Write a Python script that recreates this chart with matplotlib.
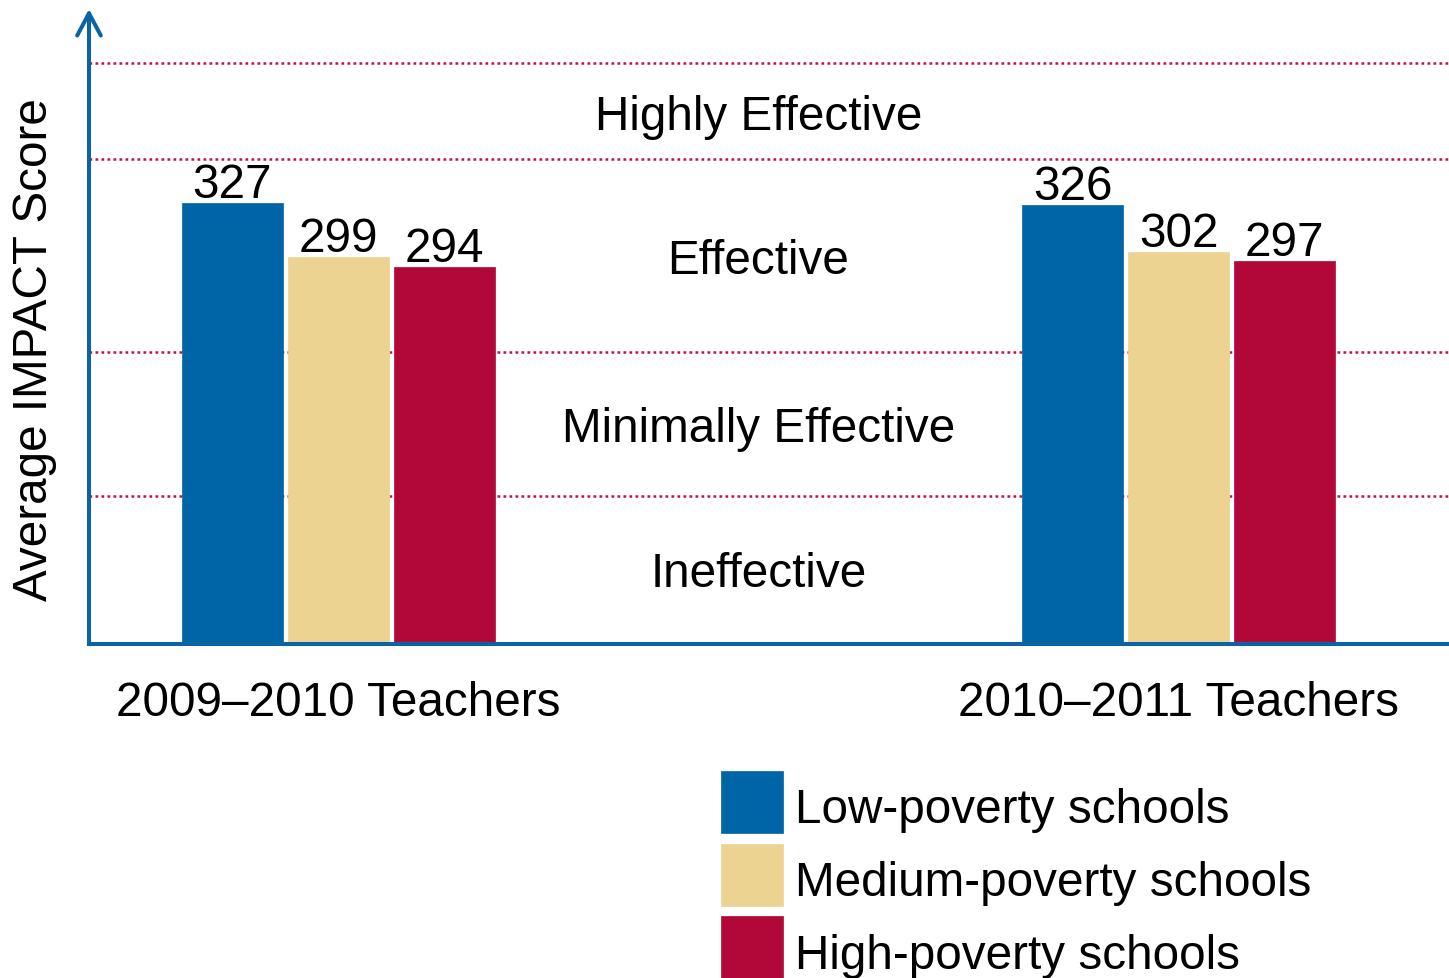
import matplotlib
matplotlib.use("Agg")
import matplotlib.pyplot as plt
from matplotlib.patches import Rectangle
from matplotlib.legend_handler import HandlerPatch
from matplotlib.container import BarContainer
import numpy as np

plt.rcParams['font.family'] = ['Liberation Sans', 'DejaVu Sans']

# ---- data ----
groups = ["2009\u20132010 Teachers", "2010\u20132011 Teachers"]
series = ["Low-poverty schools", "Medium-poverty schools", "High-poverty schools"]
low_poverty = [327, 326]
medium_poverty = [299, 302]
high_poverty = [294, 297]
band_edges = [175, 250, 350, 400]
band_labels = ["Ineffective", "Minimally Effective", "Effective", "Highly Effective"]
band_mids = [137.5, 212.5, 300, 375]

colors = ["#0065A6", "#ECD392", "#B20838"]
line_color = "#C4143E"
axis_blue = "#0A64A4"

W, H = 1449, 979
fig = plt.figure(figsize=(W / 100, H / 100), dpi=100)
ax = fig.add_axes([89 / W, (H - 645) / H, 1 - 89 / W, (645 - 10) / H])

ax.set_ylim(98.2, 428.0)
ax.set_xlim(-0.297, 1.322)

x = np.arange(len(groups))
bw = 0.1202
step = 0.1262
values = [low_poverty, medium_poverty, high_poverty]
containers = []
for i, (vals, c, lab) in enumerate(zip(values, colors, series)):
    bc = ax.bar(x + (i - 1) * step, vals, width=bw, color=c, label=lab, zorder=3,
                edgecolor=c, linewidth=0.5)
    containers.append(bc)
    for xi, v in zip(x + (i - 1) * step, vals):
        ax.annotate(str(v), (xi, v), xytext=(0, 4.3), textcoords='offset points',
                    ha='center', va='baseline', fontsize=34.3, color='black', zorder=5)

for e in band_edges:
    ax.axhline(e, color=line_color, lw=1.8, linestyle=(0, (1.1, 1.3)), zorder=1)

for lab, m in zip(band_labels, band_mids):
    ax.text(0.5, m, lab, ha='center', va='center_baseline', fontsize=34.3, zorder=4)

# axes styling
for s in ['top', 'right', 'left']:
    ax.spines[s].set_visible(False)
ax.spines['bottom'].set_color(axis_blue)
ax.spines['bottom'].set_linewidth(2.9)
ax.spines['bottom'].set_zorder(6)
ax.set_yticks([])
ax.set_xticks(x)
ax.set_xticklabels(groups, fontsize=34.3)
ax.tick_params(axis='x', length=0, pad=26)

# y axis arrow
ax.annotate('', xy=(0, 1.0), xytext=(0, 0), xycoords='axes fraction',
            textcoords='axes fraction',
            arrowprops=dict(arrowstyle='->,head_length=1.6,head_width=0.85',
                            color=axis_blue, lw=2.9, shrinkA=0, shrinkB=0,
                            mutation_scale=10, capstyle='round', joinstyle='round'),
            annotation_clip=False, zorder=7)

fig.text(35 / W, 1 - 350 / H, "Average IMPACT Score", rotation=90,
         ha='center', va='center', fontsize=34.3)


def square_patch(legend, orig_handle, xdescent, ydescent, width, height, fontsize):
    return Rectangle((-xdescent, -ydescent + 3.4), width, height)


def from_first_child(tgt, src):
    first = next(iter(src.get_children()), None)
    if first is not None:
        tgt.update_from(first)


ax.legend(handles=containers, labels=series, loc='upper left',
          bbox_to_anchor=(721 / W, 1 - 776.7 / H), bbox_transform=fig.transFigure,
          frameon=False, borderpad=0, borderaxespad=0, fontsize=34.3,
          handlelength=1.30, handleheight=1.63, handletextpad=0.25,
          labelspacing=0.222,
          handler_map={BarContainer: HandlerPatch(patch_func=square_patch,
                                                  update_func=from_first_child)})

fig.savefig("out.png", dpi=100)
